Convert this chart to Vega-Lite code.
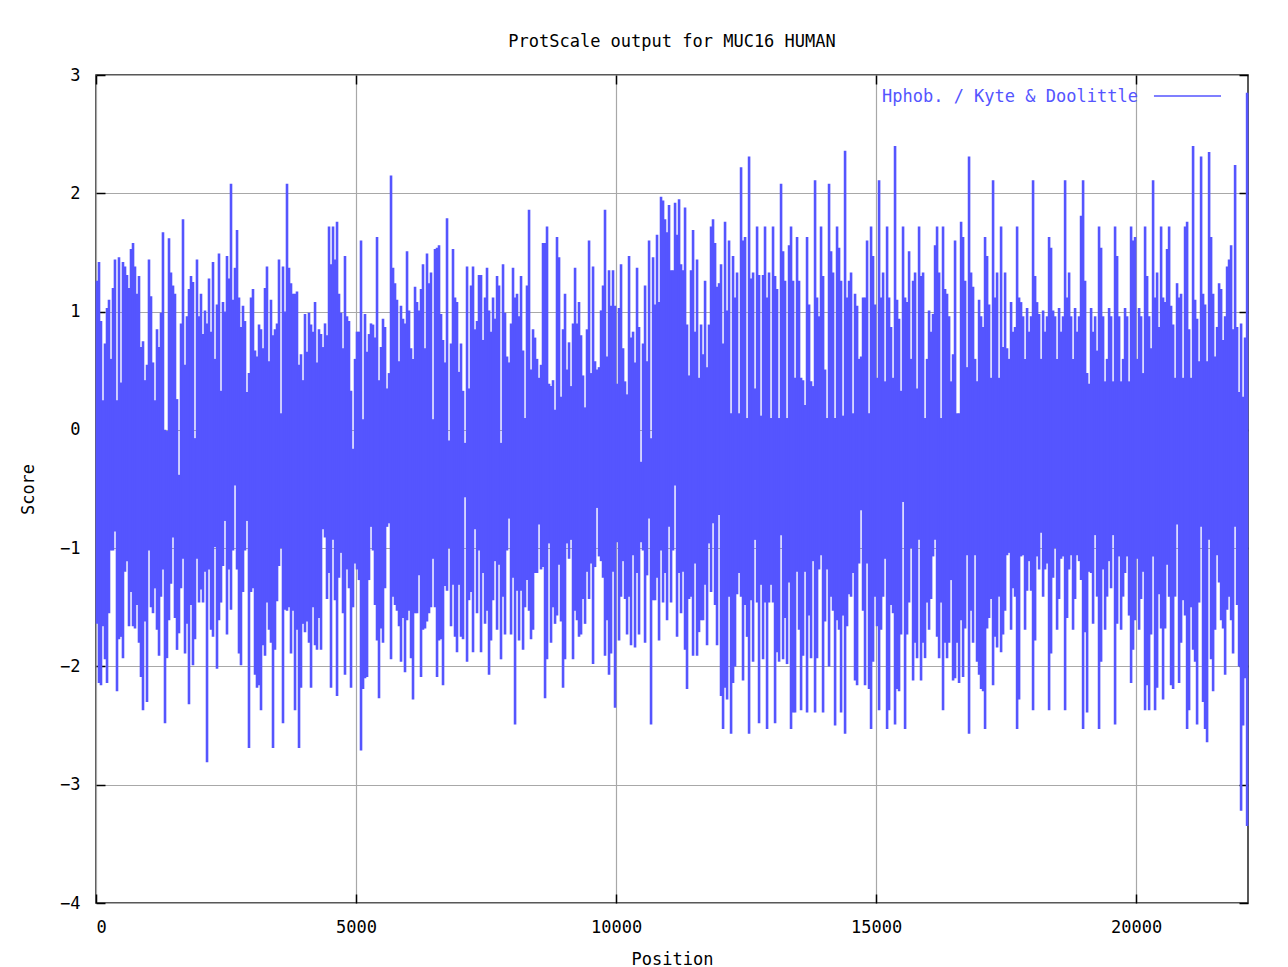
{
"$schema":"https://vega.github.io/schema/vega-lite/v6.json",
"width":1152,"height":828,
"autosize":{"type":"none"},
"padding":{"left":96,"top":75,"right":40,"bottom":64},
"background":"white",
"title":{"text":"ProtScale output for MUC16 HUMAN","font":"DejaVu Sans Mono","fontSize":17,"fontWeight":"normal","color":"#000","anchor":"middle","offset":11},
"config":{"view":{"stroke":"#222","strokeWidth":1.5},
"axis":{"labelFont":"DejaVu Sans Mono","titleFont":"DejaVu Sans Mono","labelFontSize":17,"titleFontSize":17,"titleFontWeight":"normal","labelColor":"#000","titleColor":"#000","gridColor":"#a8a8a8","gridWidth":1.2,"gridOpacity":1,"domain":false,"tickColor":"#000","tickSize":-9,"tickWidth":1.5}},
"datasets":{"bins":[
{"p":19,"h":1.26,"l":-1.64},{"p":58,"h":1.42,"l":-2.14},{"p":96,"h":0.92,"l":-2.16},{"p":135,"h":0.25,"l":-1.66},{"p":173,"h":0.73,"l":-1.94},{"p":212,"h":1.03,"l":-2.14},{"p":250,"h":1.1,"l":-1.55},{"p":288,"h":0.6,"l":-1.02},{"p":327,"h":1.2,"l":-1.02},{"p":365,"h":1.44,"l":-0.86},{"p":404,"h":0.25,"l":-2.21},{"p":442,"h":1.46,"l":-1.77},{"p":481,"h":0.4,"l":-1.75},
{"p":519,"h":1.42,"l":-1.93},{"p":558,"h":1.38,"l":-1.2},{"p":596,"h":1.31,"l":-1.11},{"p":635,"h":1.2,"l":-1.66},{"p":673,"h":1.53,"l":-1.37},{"p":712,"h":1.58,"l":-1.66},{"p":750,"h":1.38,"l":-1.68},{"p":788,"h":1.15,"l":-1.48},{"p":827,"h":1.3,"l":-1.8},{"p":865,"h":0.7,"l":-2.09},{"p":904,"h":0.75,"l":-2.37},{"p":942,"h":0.42,"l":-1.62},{"p":981,"h":0.55,"l":-2.3},
{"p":1019,"h":1.44,"l":-1.02},{"p":1058,"h":1.13,"l":-1.5},{"p":1096,"h":0.57,"l":-1.55},{"p":1135,"h":0.25,"l":-1.34},{"p":1173,"h":0.85,"l":-1.69},{"p":1212,"h":0.7,"l":-1.91},{"p":1250,"h":0.99,"l":-1.41},{"p":1288,"h":1.67,"l":-1.18},{"p":1327,"h":0.0,"l":-2.48},{"p":1365,"h":-0.01,"l":-1.93},{"p":1404,"h":1.62,"l":-1.61},{"p":1442,"h":1.33,"l":-1.3},{"p":1481,"h":1.22,"l":-0.91},
{"p":1519,"h":1.15,"l":-1.59},{"p":1558,"h":0.26,"l":-1.86},{"p":1596,"h":-0.38,"l":-1.72},{"p":1635,"h":0.9,"l":-1.34},{"p":1673,"h":1.78,"l":-1.09},{"p":1712,"h":0.55,"l":-1.89},{"p":1750,"h":0.96,"l":-1.64},{"p":1788,"h":1.19,"l":-2.32},{"p":1827,"h":1.3,"l":-1.48},{"p":1865,"h":1.25,"l":-1.99},{"p":1904,"h":-0.07,"l":-1.77},{"p":1942,"h":1.44,"l":-1.09},{"p":1981,"h":0.96,"l":-1.46},
{"p":2019,"h":1.15,"l":-1.35},{"p":2058,"h":0.81,"l":-1.46},{"p":2096,"h":1.01,"l":-1.2},{"p":2135,"h":0.9,"l":-2.81},{"p":2173,"h":1.28,"l":-1.18},{"p":2212,"h":0.83,"l":-1.69},{"p":2250,"h":1.42,"l":-1.75},{"p":2288,"h":0.6,"l":-0.99},{"p":2327,"h":1.06,"l":-2.02},{"p":2365,"h":1.49,"l":-1.61},{"p":2404,"h":0.33,"l":-1.46},{"p":2442,"h":1.08,"l":-1.15},{"p":2481,"h":1.0,"l":-0.77},
{"p":2519,"h":1.47,"l":-1.73},{"p":2558,"h":1.28,"l":-1.18},{"p":2596,"h":2.08,"l":-1.52},{"p":2635,"h":1.1,"l":-1.02},{"p":2673,"h":1.37,"l":-0.47},{"p":2712,"h":1.69,"l":-1.18},{"p":2750,"h":1.12,"l":-1.89},{"p":2788,"h":0.87,"l":-1.99},{"p":2827,"h":1.05,"l":-1.37},{"p":2865,"h":0.92,"l":-1.02},{"p":2904,"h":0.32,"l":-0.77},{"p":2942,"h":0.48,"l":-2.69},{"p":2981,"h":1.12,"l":-1.37},
{"p":3019,"h":1.19,"l":-1.34},{"p":3058,"h":0.67,"l":-2.07},{"p":3096,"h":0.62,"l":-2.18},{"p":3135,"h":0.89,"l":-2.16},{"p":3173,"h":0.85,"l":-2.37},{"p":3212,"h":0.69,"l":-1.82},{"p":3250,"h":1.2,"l":-1.91},{"p":3288,"h":1.38,"l":-1.46},{"p":3327,"h":0.58,"l":-1.69},{"p":3365,"h":1.1,"l":-1.8},{"p":3404,"h":0.8,"l":-2.69},{"p":3442,"h":0.85,"l":-1.86},{"p":3481,"h":0.9,"l":-1.45},
{"p":3519,"h":1.44,"l":-1.15},{"p":3558,"h":0.14,"l":-1.0},{"p":3596,"h":1.38,"l":-2.48},{"p":3635,"h":1.0,"l":-1.52},{"p":3673,"h":2.08,"l":-1.53},
{"p":3712,"h":1.37,"l":-1.5},{"p":3750,"h":1.24,"l":-1.89},{"p":3788,"h":1.15,"l":-1.53},{"p":3827,"h":1.15,"l":-2.37},{"p":3865,"h":1.17,"l":-1.69},{"p":3904,"h":0.55,"l":-2.69},{"p":3942,"h":0.64,"l":-2.18},{"p":3981,"h":0.42,"l":-1.64},
{"p":4019,"h":0.98,"l":-1.71},{"p":4058,"h":0.66,"l":-1.62},{"p":4096,"h":0.99,"l":-1.8},{"p":4135,"h":0.89,"l":-2.18},{"p":4173,"h":0.83,"l":-1.5},{"p":4212,"h":1.08,"l":-1.82},{"p":4250,"h":0.57,"l":-1.86},{"p":4288,"h":0.85,"l":-1.59},{"p":4327,"h":0.81,"l":-1.86},{"p":4365,"h":0.7,"l":-0.84},{"p":4404,"h":0.9,"l":-0.91},{"p":4442,"h":0.8,"l":-1.43},{"p":4481,"h":1.72,"l":-1.21},
{"p":4519,"h":1.4,"l":-2.18},{"p":4558,"h":1.72,"l":-0.93},{"p":4596,"h":1.44,"l":-1.44},{"p":4635,"h":1.76,"l":-2.25},{"p":4673,"h":1.15,"l":-1.25},{"p":4712,"h":0.99,"l":-1.04},{"p":4750,"h":0.69,"l":-1.55},{"p":4788,"h":1.47,"l":-2.07},{"p":4827,"h":0.96,"l":-1.18},{"p":4865,"h":0.92,"l":-1.34},{"p":4904,"h":0.33,"l":-2.18},{"p":4942,"h":-0.16,"l":-1.5},{"p":4981,"h":0.6,"l":-1.13},
{"p":5019,"h":0.83,"l":-1.18},{"p":5058,"h":0.83,"l":-1.27},{"p":5096,"h":1.6,"l":-2.71},{"p":5135,"h":0.09,"l":-2.19},{"p":5173,"h":0.98,"l":-2.1},{"p":5212,"h":0.66,"l":-2.09},{"p":5250,"h":0.81,"l":-1.27},{"p":5288,"h":0.9,"l":-0.82},{"p":5327,"h":0.89,"l":-1.02},{"p":5365,"h":0.78,"l":-1.48},{"p":5404,"h":1.63,"l":-1.78},{"p":5442,"h":0.42,"l":-2.27},{"p":5481,"h":0.7,"l":-1.68},
{"p":5519,"h":0.94,"l":-1.8},{"p":5558,"h":0.87,"l":-1.34},{"p":5596,"h":0.35,"l":-0.82},{"p":5635,"h":0.48,"l":-0.79},{"p":5673,"h":2.15,"l":-1.94},{"p":5712,"h":1.37,"l":-1.41},{"p":5750,"h":1.24,"l":-1.48},{"p":5788,"h":1.1,"l":-1.53},{"p":5827,"h":0.58,"l":-1.66},{"p":5865,"h":1.05,"l":-1.96},{"p":5904,"h":0.94,"l":-1.59},{"p":5942,"h":0.9,"l":-2.05},{"p":5981,"h":1.51,"l":-1.61},
{"p":6019,"h":1.01,"l":-1.53},{"p":6058,"h":0.69,"l":-1.93},{"p":6096,"h":0.6,"l":-2.28},{"p":6135,"h":1.21,"l":-1.55},{"p":6173,"h":1.08,"l":-1.55},{"p":6212,"h":1.01,"l":-1.23},{"p":6250,"h":1.19,"l":-2.09},{"p":6288,"h":1.4,"l":-1.69},{"p":6327,"h":0.69,"l":-1.68},{"p":6365,"h":1.49,"l":-1.62},{"p":6404,"h":1.24,"l":-1.55},{"p":6442,"h":1.33,"l":-1.5},{"p":6481,"h":0.09,"l":-1.09},
{"p":6519,"h":1.53,"l":-1.5},{"p":6558,"h":1.54,"l":-2.09},{"p":6596,"h":1.56,"l":-1.78},{"p":6635,"h":0.98,"l":-1.77},{"p":6673,"h":0.76,"l":-2.16},{"p":6712,"h":0.57,"l":-1.32},{"p":6750,"h":1.79,"l":-1.36},{"p":6788,"h":-0.09,"l":-1.0},{"p":6827,"h":0.73,"l":-1.66},{"p":6865,"h":1.53,"l":-1.31},{"p":6904,"h":1.12,"l":-1.75},{"p":6942,"h":1.08,"l":-1.88},{"p":6981,"h":0.49,"l":-1.31},
{"p":7019,"h":0.73,"l":-1.75},{"p":7058,"h":0.33,"l":-1.77},{"p":7096,"h":-0.11,"l":-0.57},{"p":7135,"h":1.38,"l":-1.96},{"p":7173,"h":0.35,"l":-1.44},{"p":7212,"h":1.22,"l":-1.37},{"p":7250,"h":1.38,"l":-1.88},{"p":7288,"h":0.85,"l":-0.84},{"p":7327,"h":0.92,"l":-1.55},{"p":7365,"h":1.31,"l":-1.02},
{"p":7404,"h":1.31,"l":-1.88},{"p":7442,"h":0.76,"l":-1.21},{"p":7481,"h":1.12,"l":-1.64},
{"p":7519,"h":1.37,"l":-1.53},{"p":7558,"h":1.01,"l":-2.07},{"p":7596,"h":0.83,"l":-1.78},{"p":7635,"h":1.12,"l":-1.44},{"p":7673,"h":0.94,"l":-1.11},{"p":7712,"h":1.3,"l":-1.69},{"p":7750,"h":1.22,"l":-1.14},{"p":7788,"h":-0.11,"l":-1.94},{"p":7827,"h":1.4,"l":-1.41},{"p":7865,"h":0.99,"l":-1.73},{"p":7904,"h":0.62,"l":-1.02},{"p":7942,"h":0.57,"l":-0.75},{"p":7981,"h":0.9,"l":-1.73},
{"p":8019,"h":1.37,"l":-1.25},{"p":8058,"h":1.12,"l":-2.49},{"p":8096,"h":1.15,"l":-1.36},{"p":8135,"h":0.96,"l":-1.78},{"p":8173,"h":1.3,"l":-1.36},{"p":8212,"h":0.67,"l":-1.86},{"p":8250,"h":0.1,"l":-1.5},{"p":8288,"h":1.22,"l":-1.27},{"p":8327,"h":1.86,"l":-1.53},{"p":8365,"h":0.51,"l":-1.77},{"p":8404,"h":0.85,"l":-1.69},{"p":8442,"h":0.78,"l":-1.21},{"p":8481,"h":0.6,"l":-1.21},
{"p":8519,"h":0.44,"l":-0.8},{"p":8558,"h":0.55,"l":-1.18},{"p":8596,"h":1.58,"l":-1.16},{"p":8635,"h":1.58,"l":-2.27},{"p":8673,"h":1.72,"l":-1.94},{"p":8712,"h":0.39,"l":-0.96},{"p":8750,"h":0.37,"l":-1.8},{"p":8788,"h":0.42,"l":-1.5},{"p":8827,"h":0.17,"l":-1.64},{"p":8865,"h":1.63,"l":-1.57},{"p":8904,"h":1.46,"l":-1.14},{"p":8942,"h":0.28,"l":-1.62},{"p":8981,"h":0.85,"l":-2.18},
{"p":9019,"h":1.15,"l":-1.94},{"p":9058,"h":0.51,"l":-0.96},{"p":9096,"h":0.74,"l":-1.09},{"p":9135,"h":0.37,"l":-0.93},{"p":9173,"h":0.9,"l":-1.94},{"p":9212,"h":1.37,"l":-1.53},{"p":9250,"h":0.9,"l":-1.61},{"p":9288,"h":1.08,"l":-1.75},{"p":9327,"h":0.8,"l":-1.73},{"p":9365,"h":0.46,"l":-1.43},{"p":9404,"h":0.19,"l":-1.64},{"p":9442,"h":0.85,"l":-1.2},{"p":9481,"h":1.6,"l":-1.43},
{"p":9519,"h":0.48,"l":-1.13},{"p":9558,"h":1.38,"l":-1.98},{"p":9596,"h":0.58,"l":-1.16},{"p":9635,"h":0.51,"l":-0.66},{"p":9673,"h":0.53,"l":-1.07},{"p":9712,"h":1.01,"l":-1.11},{"p":9750,"h":1.22,"l":-1.25},{"p":9788,"h":1.86,"l":-1.91},{"p":9827,"h":0.62,"l":-1.61},{"p":9865,"h":1.35,"l":-2.07},{"p":9904,"h":1.05,"l":-1.89},{"p":9942,"h":1.35,"l":-1.2},{"p":9981,"h":1.05,"l":-2.35},
{"p":10019,"h":0.39,"l":-0.95},{"p":10058,"h":1.03,"l":-1.78},{"p":10096,"h":1.4,"l":-1.41},{"p":10135,"h":0.69,"l":-1.11},{"p":10173,"h":0.41,"l":-1.43},{"p":10212,"h":0.3,"l":-1.73},{"p":10250,"h":1.47,"l":-1.41},{"p":10288,"h":0.78,"l":-1.82},{"p":10327,"h":0.83,"l":-1.06},{"p":10365,"h":0.57,"l":-1.84},{"p":10404,"h":1.37,"l":-1.21},{"p":10442,"h":0.87,"l":-1.73},{"p":10481,"h":-0.27,"l":-0.95},
{"p":10519,"h":0.73,"l":-1.02},{"p":10558,"h":1.22,"l":-1.8},{"p":10596,"h":0.58,"l":-1.23},{"p":10635,"h":1.6,"l":-0.75},{"p":10673,"h":-0.07,"l":-2.49},{"p":10712,"h":1.46,"l":-1.44},{"p":10750,"h":1.06,"l":-1.44},{"p":10788,"h":1.65,"l":-1.25},{"p":10827,"h":1.08,"l":-1.78},{"p":10865,"h":1.97,"l":-1.02},{"p":10904,"h":1.94,"l":-1.46},{"p":10942,"h":1.78,"l":-1.21},{"p":10981,"h":1.67,"l":-1.61},
{"p":11019,"h":1.9,"l":-0.82},{"p":11058,"h":1.35,"l":-1.46},
{"p":11096,"h":1.35,"l":-1.02},{"p":11135,"h":1.92,"l":-0.47},{"p":11173,"h":1.65,"l":-1.75},{"p":11212,"h":1.95,"l":-1.21},{"p":11250,"h":1.4,"l":-1.55},{"p":11288,"h":1.35,"l":-1.2},{"p":11327,"h":1.88,"l":-1.86},{"p":11365,"h":0.89,"l":-2.19},{"p":11404,"h":0.46,"l":-1.43},{"p":11442,"h":1.35,"l":-1.41},{"p":11481,"h":1.69,"l":-1.91},
{"p":11519,"h":0.83,"l":-1.13},{"p":11558,"h":1.44,"l":-1.91},{"p":11596,"h":0.44,"l":-1.71},{"p":11635,"h":0.89,"l":-1.61},{"p":11673,"h":0.64,"l":-1.61},{"p":11712,"h":1.26,"l":-1.31},{"p":11750,"h":0.53,"l":-1.82},{"p":11788,"h":0.89,"l":-0.96},{"p":11827,"h":1.72,"l":-1.37},{"p":11865,"h":1.78,"l":-0.79},{"p":11904,"h":1.58,"l":-1.48},{"p":11942,"h":1.21,"l":-1.82},{"p":11981,"h":1.24,"l":-0.72},
{"p":12019,"h":1.4,"l":-2.25},{"p":12058,"h":0.73,"l":-2.53},{"p":12096,"h":1.76,"l":-2.18},{"p":12135,"h":1.01,"l":-2.28},{"p":12173,"h":1.6,"l":-1.41},{"p":12212,"h":0.14,"l":-2.57},{"p":12250,"h":1.47,"l":-2.14},{"p":12288,"h":1.12,"l":-2.0},{"p":12327,"h":1.33,"l":-1.39},{"p":12365,"h":0.14,"l":-1.21},{"p":12404,"h":2.22,"l":-1.41},{"p":12442,"h":1.6,"l":-2.12},{"p":12481,"h":1.63,"l":-1.48},
{"p":12519,"h":0.1,"l":-1.75},{"p":12558,"h":2.31,"l":-2.57},{"p":12596,"h":1.28,"l":-1.44},{"p":12635,"h":1.33,"l":-1.96},{"p":12673,"h":0.35,"l":-0.93},{"p":12712,"h":1.72,"l":-1.46},{"p":12750,"h":1.31,"l":-2.48},{"p":12788,"h":0.12,"l":-1.31},{"p":12827,"h":1.31,"l":-1.94},{"p":12865,"h":1.72,"l":-1.46},{"p":12904,"h":1.12,"l":-2.53},{"p":12942,"h":1.33,"l":-1.46},{"p":12981,"h":0.1,"l":-1.31},
{"p":13019,"h":1.72,"l":-1.46},{"p":13058,"h":1.3,"l":-2.48},{"p":13096,"h":1.19,"l":-1.88},{"p":13135,"h":0.1,"l":-1.96},{"p":13173,"h":2.08,"l":-0.89},{"p":13212,"h":1.51,"l":-1.94},{"p":13250,"h":1.26,"l":-1.59},{"p":13288,"h":0.1,"l":-1.98},{"p":13327,"h":1.56,"l":-1.29},{"p":13365,"h":1.72,"l":-2.53},{"p":13404,"h":1.26,"l":-2.39},{"p":13442,"h":0.44,"l":-2.39},{"p":13481,"h":1.63,"l":-1.2},
{"p":13519,"h":1.26,"l":-1.69},{"p":13558,"h":0.44,"l":-2.37},{"p":13596,"h":0.42,"l":-1.91},{"p":13635,"h":0.21,"l":-1.2},{"p":13673,"h":1.63,"l":-2.39},{"p":13712,"h":1.06,"l":-1.57},{"p":13750,"h":0.41,"l":-1.93},{"p":13788,"h":0.37,"l":-1.11},{"p":13827,"h":2.11,"l":-2.39},{"p":13865,"h":1.12,"l":-1.93},{"p":13904,"h":0.96,"l":-1.18},{"p":13942,"h":1.72,"l":-1.06},{"p":13981,"h":1.3,"l":-2.39},
{"p":14019,"h":0.51,"l":-1.62},{"p":14058,"h":0.1,"l":-1.18},{"p":14096,"h":2.08,"l":-2.0},{"p":14135,"h":1.51,"l":-1.41},{"p":14173,"h":1.33,"l":-1.53},{"p":14212,"h":0.1,"l":-2.5},{"p":14250,"h":1.72,"l":-1.61},{"p":14288,"h":1.54,"l":-1.69},{"p":14327,"h":1.26,"l":-2.39},{"p":14365,"h":0.12,"l":-1.57},{"p":14404,"h":2.36,"l":-2.57},{"p":14442,"h":1.12,"l":-1.66},{"p":14481,"h":1.26,"l":-1.39},
{"p":14519,"h":1.33,"l":-1.41},{"p":14558,"h":0.14,"l":-1.21},{"p":14596,"h":1.15,"l":-2.12},{"p":14635,"h":1.05,"l":-2.16},{"p":14673,"h":0.6,"l":-1.13},{"p":14712,"h":0.62,"l":-0.68},{"p":14750,"h":1.12,"l":-1.53},
{"p":14788,"h":1.12,"l":-2.16},{"p":14827,"h":1.6,"l":-1.13},{"p":14865,"h":0.14,"l":-2.19},{"p":14904,"h":1.72,"l":-2.53},{"p":14942,"h":1.47,"l":-1.96},{"p":14981,"h":1.06,"l":-1.41},
{"p":15019,"h":0.44,"l":-1.66},{"p":15058,"h":2.11,"l":-2.37},{"p":15096,"h":1.12,"l":-1.69},{"p":15135,"h":1.33,"l":-1.41},{"p":15173,"h":0.41,"l":-1.09},{"p":15212,"h":1.72,"l":-2.53},{"p":15250,"h":1.12,"l":-2.37},{"p":15288,"h":0.87,"l":-1.48},{"p":15327,"h":0.44,"l":-1.55},{"p":15365,"h":2.4,"l":-2.49},{"p":15404,"h":1.1,"l":-2.19},{"p":15442,"h":0.94,"l":-2.21},{"p":15481,"h":0.33,"l":-1.73},
{"p":15519,"h":1.72,"l":-0.61},{"p":15558,"h":1.12,"l":-2.53},{"p":15596,"h":1.08,"l":-1.73},{"p":15635,"h":1.51,"l":-1.46},{"p":15673,"h":0.6,"l":-1.0},{"p":15712,"h":1.26,"l":-2.12},{"p":15750,"h":1.33,"l":-1.8},{"p":15788,"h":0.35,"l":-1.93},{"p":15827,"h":1.72,"l":-0.93},{"p":15865,"h":1.3,"l":-2.12},{"p":15904,"h":1.33,"l":-1.8},{"p":15942,"h":0.1,"l":-1.93},{"p":15981,"h":0.6,"l":-1.46},
{"p":16019,"h":1.01,"l":-1.69},{"p":16058,"h":0.83,"l":-1.43},{"p":16096,"h":0.98,"l":-1.07},{"p":16135,"h":1.56,"l":-0.93},{"p":16173,"h":1.72,"l":-1.75},{"p":16212,"h":1.33,"l":-1.93},{"p":16250,"h":0.1,"l":-1.46},{"p":16288,"h":1.72,"l":-2.37},{"p":16327,"h":1.19,"l":-1.8},{"p":16365,"h":1.15,"l":-1.93},{"p":16404,"h":0.96,"l":-1.8},{"p":16442,"h":0.41,"l":-1.27},{"p":16481,"h":0.64,"l":-2.12},
{"p":16519,"h":1.6,"l":-2.1},{"p":16558,"h":0.14,"l":-1.8},{"p":16596,"h":0.14,"l":-2.14},{"p":16635,"h":1.76,"l":-1.61},{"p":16673,"h":1.63,"l":-2.09},{"p":16712,"h":1.26,"l":-1.68},{"p":16750,"h":0.53,"l":-1.06},{"p":16788,"h":2.31,"l":-2.57},{"p":16827,"h":1.33,"l":-1.53},{"p":16865,"h":1.21,"l":-1.8},{"p":16904,"h":0.6,"l":-1.06},{"p":16942,"h":0.41,"l":-1.96},{"p":16981,"h":1.1,"l":-2.07},
{"p":17019,"h":0.96,"l":-2.19},{"p":17058,"h":0.87,"l":-2.21},{"p":17096,"h":1.63,"l":-2.53},{"p":17135,"h":1.47,"l":-1.68},{"p":17173,"h":1.06,"l":-1.59},{"p":17212,"h":0.44,"l":-1.43},{"p":17250,"h":2.11,"l":-2.16},{"p":17288,"h":1.12,"l":-1.75},{"p":17327,"h":1.33,"l":-1.84},{"p":17365,"h":0.44,"l":-1.41},{"p":17404,"h":1.72,"l":-1.88},{"p":17442,"h":0.7,"l":-1.73},{"p":17481,"h":1.33,"l":-1.53},
{"p":17519,"h":0.69,"l":-1.06},{"p":17558,"h":0.6,"l":-1.04},{"p":17596,"h":1.08,"l":-1.69},{"p":17635,"h":0.83,"l":-1.34},{"p":17673,"h":0.87,"l":-1.41},{"p":17712,"h":1.72,"l":-2.53},{"p":17750,"h":1.12,"l":-2.28},{"p":17788,"h":1.08,"l":-1.07},{"p":17827,"h":0.96,"l":-1.06},{"p":17865,"h":0.6,"l":-1.69},{"p":17904,"h":1.03,"l":-1.36},{"p":17942,"h":0.83,"l":-1.11},{"p":17981,"h":0.96,"l":-1.36},
{"p":18019,"h":2.11,"l":-2.37},{"p":18058,"h":1.3,"l":-1.78},{"p":18096,"h":1.08,"l":-1.07},{"p":18135,"h":0.98,"l":-1.18},{"p":18173,"h":0.6,"l":-0.87},{"p":18212,"h":1.01,"l":-1.41},{"p":18250,"h":0.83,"l":-1.18},{"p":18288,"h":0.96,"l":-1.13},{"p":18327,"h":1.63,"l":-2.37},{"p":18365,"h":1.54,"l":-1.89},{"p":18404,"h":1.01,"l":-1.25},{"p":18442,"h":0.96,"l":-1.0},
{"p":18481,"h":0.6,"l":-1.69},
{"p":18519,"h":1.03,"l":-1.43},{"p":18558,"h":0.83,"l":-1.09},{"p":18596,"h":0.96,"l":-1.07},{"p":18635,"h":2.11,"l":-2.37},{"p":18673,"h":1.12,"l":-1.59},{"p":18712,"h":1.33,"l":-1.18},{"p":18750,"h":0.96,"l":-1.06},{"p":18788,"h":0.6,"l":-1.69},{"p":18827,"h":1.03,"l":-1.43},{"p":18865,"h":0.83,"l":-1.06},{"p":18904,"h":0.96,"l":-1.11},{"p":18942,"h":1.81,"l":-1.27},{"p":18981,"h":2.11,"l":-2.53},
{"p":19019,"h":1.26,"l":-1.71},{"p":19058,"h":0.48,"l":-2.39},{"p":19096,"h":0.39,"l":-1.2},{"p":19135,"h":1.03,"l":-1.21},{"p":19173,"h":0.83,"l":-1.64},{"p":19212,"h":0.96,"l":-0.89},{"p":19250,"h":0.67,"l":-1.41},{"p":19288,"h":1.72,"l":-2.53},{"p":19327,"h":1.54,"l":-1.96},{"p":19365,"h":0.96,"l":-1.18},{"p":19404,"h":0.41,"l":-1.69},{"p":19442,"h":0.6,"l":-1.41},{"p":19481,"h":1.03,"l":-1.11},
{"p":19519,"h":0.96,"l":-1.34},{"p":19558,"h":0.41,"l":-0.89},{"p":19596,"h":1.72,"l":-2.49},{"p":19635,"h":1.47,"l":-1.64},{"p":19673,"h":0.96,"l":-1.07},{"p":19712,"h":0.41,"l":-1.69},{"p":19750,"h":0.6,"l":-1.41},{"p":19788,"h":1.03,"l":-1.21},{"p":19827,"h":0.96,"l":-1.07},{"p":19865,"h":0.41,"l":-1.57},{"p":19904,"h":1.72,"l":-2.14},{"p":19942,"h":1.6,"l":-1.86},{"p":19981,"h":1.63,"l":-1.61},
{"p":20019,"h":0.6,"l":-1.09},{"p":20058,"h":1.03,"l":-1.69},{"p":20096,"h":0.96,"l":-1.43},{"p":20135,"h":0.48,"l":-1.2},{"p":20173,"h":1.72,"l":-2.37},{"p":20212,"h":1.3,"l":-2.16},{"p":20250,"h":0.96,"l":-2.37},{"p":20288,"h":0.69,"l":-1.73},{"p":20327,"h":2.11,"l":-1.07},{"p":20365,"h":1.12,"l":-2.37},{"p":20404,"h":1.33,"l":-2.18},{"p":20442,"h":0.87,"l":-1.39},{"p":20481,"h":1.72,"l":-1.68},
{"p":20519,"h":1.12,"l":-2.28},{"p":20558,"h":1.08,"l":-1.68},{"p":20596,"h":1.53,"l":-1.14},{"p":20635,"h":1.72,"l":-1.41},{"p":20673,"h":1.05,"l":-2.16},{"p":20712,"h":0.89,"l":-2.19},{"p":20750,"h":0.44,"l":-1.41},{"p":20788,"h":1.24,"l":-0.8},{"p":20827,"h":1.12,"l":-2.14},{"p":20865,"h":1.15,"l":-1.8},{"p":20904,"h":0.44,"l":-1.44},{"p":20942,"h":1.72,"l":-1.57},{"p":20981,"h":1.76,"l":-2.53},
{"p":21019,"h":0.85,"l":-2.37},{"p":21058,"h":0.44,"l":-1.5},{"p":21096,"h":2.4,"l":-1.86},{"p":21135,"h":1.1,"l":-1.96},{"p":21173,"h":0.94,"l":-2.49},{"p":21212,"h":0.58,"l":-1.46},{"p":21250,"h":2.31,"l":-0.82},{"p":21288,"h":1.15,"l":-2.3},{"p":21327,"h":1.06,"l":-2.53},{"p":21365,"h":0.58,"l":-2.64},{"p":21404,"h":2.35,"l":-0.93},{"p":21442,"h":1.63,"l":-1.94},{"p":21481,"h":1.15,"l":-2.21},
{"p":21519,"h":0.62,"l":-1.69},{"p":21558,"h":0.87,"l":-1.06},{"p":21596,"h":1.24,"l":-1.29},{"p":21635,"h":1.19,"l":-1.61},{"p":21673,"h":0.76,"l":-1.68},{"p":21712,"h":0.96,"l":-2.07},{"p":21750,"h":1.38,"l":-1.52},{"p":21788,"h":1.44,"l":-1.41},{"p":21827,"h":1.56,"l":-1.61},{"p":21865,"h":0.85,"l":-1.89},{"p":21904,"h":2.24,"l":-0.82},{"p":21942,"h":0.87,"l":-1.48},{"p":21981,"h":0.32,"l":-2.0},
{"p":22019,"h":0.9,"l":-3.22},{"p":22058,"h":0.28,"l":-2.5},{"p":22096,"h":0.78,"l":-2.1},{"p":22135,"h":2.85,"l":-3.35}
]},
"layer":[
{"data":{"name":"bins"},
 "mark":{"type":"rule","strokeWidth":2.6},
 "encoding":{
  "x":{"field":"p","type":"quantitative","scale":{"domain":[0,22152],"nice":false,"zero":false},
       "axis":{"orient":"bottom","values":[0,5000,10000,15000,20000],"format":"d","title":"Position","labelPadding":25,"titlePadding":16}},
  "y":{"field":"l","type":"quantitative","scale":{"domain":[-4,3],"nice":false,"zero":false},
       "axis":{"orient":"left","values":[-4,-3,-2,-1,0,1,2,3],"format":"d","title":"Score","labelPadding":25,"titlePadding":22}},
  "y2":{"field":"h"},
  "color":{"datum":"Hphob. / Kyte & Doolittle","type":"nominal","scale":{"range":["#5555ff"]},
   "legend":{"orient":"none","legendX":786,"legendY":-13.5,"title":"Hphob. / Kyte & Doolittle","titleOrient":"left","titleLimit":600,"titleAnchor":"end","titleBaseline":"alphabetic","titlePadding":15,"labelExpr":"''","symbolType":"stroke","symbolSize":4500,"symbolStrokeWidth":1.5,"titleColor":"#5555ff","titleFont":"DejaVu Sans Mono","titleFontSize":17,"titleFontWeight":"normal","padding":0,"labelOffset":0}}
 }},
{"data":{"values":[{}]},
 "mark":{"type":"point","opacity":0},
 "encoding":{
  "x":{"datum":0,"type":"quantitative","axis":{"orient":"top","values":[0,5000,10000,15000,20000],"labels":false,"grid":false,"title":null}},
  "y":{"datum":0,"type":"quantitative","axis":{"orient":"right","values":[-4,-3,-2,-1,0,1,2,3],"labels":false,"grid":false,"title":null}}
 }}
],
"resolve":{"axis":{"x":"independent","y":"independent"}}
}
